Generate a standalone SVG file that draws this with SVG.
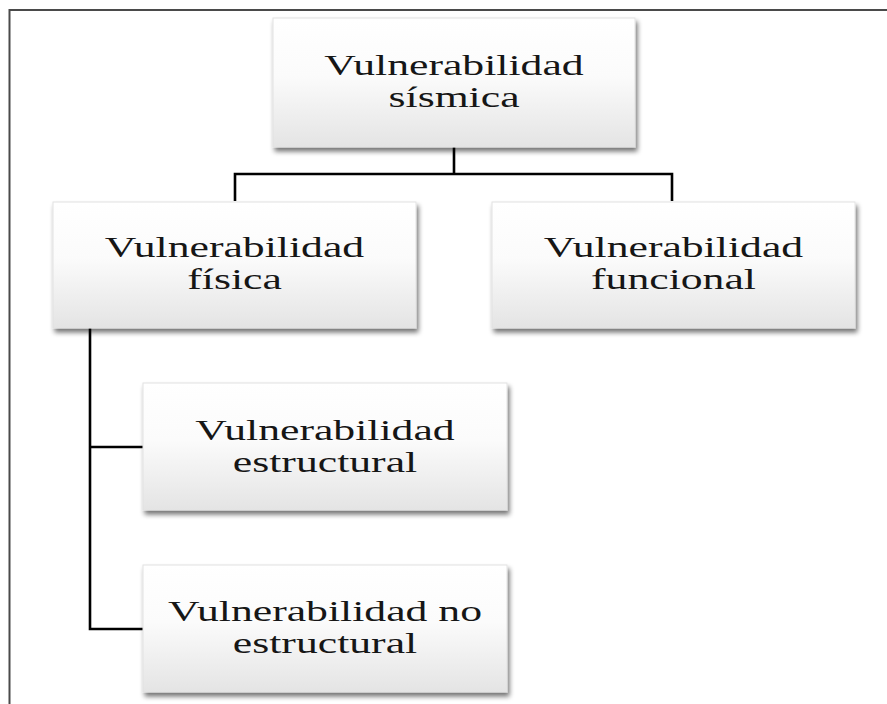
<svg xmlns="http://www.w3.org/2000/svg" width="887" height="704" viewBox="0 0 887 704">
<defs>
<linearGradient id="g" x1="0" y1="0" x2="0" y2="1">
<stop offset="0" stop-color="#ffffff"/>
<stop offset="0.45" stop-color="#fbfbfb"/>
<stop offset="1" stop-color="#e4e4e4"/>
</linearGradient>
<filter id="sh" x="-10%" y="-10%" width="125%" height="130%">
<feGaussianBlur in="SourceAlpha" stdDeviation="2.5"/>
<feOffset dx="2" dy="4" result="o"/>
<feComponentTransfer><feFuncA type="linear" slope="0.55"/></feComponentTransfer>
<feMerge><feMergeNode/><feMergeNode in="SourceGraphic"/></feMerge>
</filter>
</defs>
<style>
.box{fill:url(#g);stroke:#e2e2e2;stroke-width:1;filter:url(#sh)}
.t{font-family:"Liberation Serif","Times New Roman",serif;font-size:30px;fill:#161616;text-anchor:middle}
.c{fill:none;stroke:#000;stroke-width:2.6}
</style>
<rect width="887" height="704" fill="#fff"/>
<path d="M9.5,704 V10 H887" fill="none" stroke="#4a4a4a" stroke-width="2"/>
<g id="connectors">
<path class="c" d="M454,147 V174 M235,201 V174 H672 V201"/>
<path class="c" d="M90,328 V629 H143 M90,447 H143"/>
</g>
<g id="n-sismica">
<rect class="box" x="273" y="18" width="362" height="129"/>
<text class="t" transform="translate(454,75) scale(1.457,1)"><tspan x="0">Vulnerabilidad</tspan><tspan x="0" dy="32">sísmica</tspan></text>
</g>
<g id="n-fisica">
<rect class="box" x="53" y="202" width="363" height="126"/>
<text class="t" transform="translate(234.5,257) scale(1.457,1)"><tspan x="0">Vulnerabilidad</tspan><tspan x="0" dy="32">física</tspan></text>
</g>
<g id="n-funcional">
<rect class="box" x="492" y="202" width="363" height="126"/>
<text class="t" transform="translate(673.5,257) scale(1.457,1)"><tspan x="0">Vulnerabilidad</tspan><tspan x="0" dy="32">funcional</tspan></text>
</g>
<g id="n-estructural">
<rect class="box" x="143" y="383" width="364" height="127"/>
<text class="t" transform="translate(325,440) scale(1.457,1)"><tspan x="0">Vulnerabilidad</tspan><tspan x="0" dy="32">estructural</tspan></text>
</g>
<g id="n-noestructural">
<rect class="box" x="143" y="565" width="364" height="127"/>
<text class="t" transform="translate(325,621) scale(1.457,1)"><tspan x="0">Vulnerabilidad no</tspan><tspan x="0" dy="32">estructural</tspan></text>
</g>
</svg>
